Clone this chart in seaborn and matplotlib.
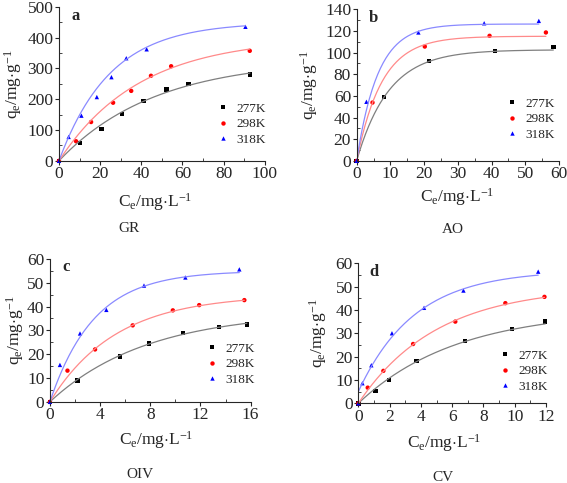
import numpy as np
import pandas as pd
import matplotlib
matplotlib.use("Agg")
import matplotlib.pyplot as plt
from matplotlib.ticker import MultipleLocator
import seaborn as sns

# temperatures (series)
temps = ["277K", "298K", "318K"]
colors = ["black", "red", "blue"]
line_colors = ["#7f7f7f", "#ff8a8a", "#8a8aff"]
markers = ["s", "o", "^"]

# panel a - GR
gr_277_c = [0, 10.2, 20.7, 30.6, 41.1, 52.2, 62.9, 92.8]
gr_277_q = [0, 57, 103, 152, 194, 231, 250, 280]
gr_298_c = [0, 8.3, 15.6, 26.3, 35.1, 44.7, 54.5, 92.7]
gr_298_q = [0, 63.6, 126, 188.6, 227, 276, 307, 357]
gr_318_c = [0, 4.7, 10.9, 18.4, 25.5, 32.7, 42.6, 90.6]
gr_318_q = [0, 77.6, 146.6, 207, 271.5, 333, 362, 435]
gr_qmax = [330, 400, 450]
gr_k = [0.02145, 0.0256, 0.0402]
gr_q0 = [0, 0, 0]

# panel b - AO
ao_277_c = [0, 8.1, 21.4, 41.0, 58.3]
ao_277_q = [0, 58.8, 92.3, 101.2, 104.9]
ao_298_c = [0, 4.7, 20.2, 39.4, 56.1]
ao_298_q = [0, 53.8, 105.5, 115.4, 118.5]
ao_318_c = [0, 2.9, 18.3, 37.8, 54.0]
ao_318_q = [0, 54.5, 118.5, 127, 129.2]
ao_qmax = [102.5, 115, 126.3]
ao_k = [0.105, 0.134, 0.16]
ao_q0 = [0, 0, 0]

# panel c - OIV
oiv_277_c = [0, 2.2, 5.6, 7.9, 10.6, 13.5, 15.7]
oiv_277_q = [0, 8.9, 19.0, 24.5, 29.0, 31.5, 32.4]
oiv_298_c = [0, 1.4, 3.6, 6.6, 9.8, 11.9, 15.5]
oiv_298_q = [0, 13.1, 22.0, 32.1, 38.4, 40.6, 42.7]
oiv_318_c = [0, 0.8, 2.4, 4.5, 7.5, 10.8, 15.1]
oiv_318_q = [0, 15.5, 28.7, 38.6, 48.8, 52.2, 55.6]
oiv_qmax = [38, 45, 55]
oiv_k = [0.129, 0.19, 0.285]
oiv_q0 = [0, 0, 0]

# panel d - CV
cv_277_c = [0, 1.09, 1.96, 3.73, 6.82, 9.83, 11.95]
cv_277_q = [0, 5.3, 10.0, 18.1, 26.7, 31.7, 35.0]
cv_298_c = [0, 0.6, 1.6, 3.5, 6.2, 9.4, 11.9]
cv_298_q = [0, 6.7, 13.9, 25.4, 35.0, 42.9, 45.6]
cv_318_c = [0, 0.26, 0.83, 2.15, 4.2, 6.72, 11.5]
cv_318_q = [0, 8.6, 16.3, 30.0, 40.9, 48.3, 56.4]
cv_qmax = [40, 50, 57]
cv_k = [0.159, 0.2, 0.279]
cv_q0 = [0, 0, 5]

panels = [
    dict(letter="a", name="GR", c=[gr_277_c, gr_298_c, gr_318_c], q=[gr_277_q, gr_298_q, gr_318_q],
         qmax=gr_qmax, k=gr_k, q0=gr_q0, xlim=(0, 100), ylim=(0, 500), xstep=20, ystep=100,
         rect=[0.104, 0.667, 0.363, 0.319], xl=(0.47, -0.266), yl=-0.223, tt=(0.34, -0.44),
         leg=(0.74, 0.42)),
    dict(letter="b", name="AO", c=[ao_277_c, ao_298_c, ao_318_c], q=[ao_277_q, ao_298_q, ao_318_q],
         qmax=ao_qmax, k=ao_k, q0=ao_q0, xlim=(0, 60), ylim=(0, 140), xstep=10, ystep=20,
         rect=[0.629, 0.667, 0.357, 0.314], xl=(0.495, -0.237), yl=-0.233, tt=(0.475, -0.45),
         leg=(0.71, 0.46)),
    dict(letter="c", name="OIV", c=[oiv_277_c, oiv_298_c, oiv_318_c], q=[oiv_277_q, oiv_298_q, oiv_318_q],
         qmax=oiv_qmax, k=oiv_k, q0=oiv_q0, xlim=(0, 16), ylim=(0, 60), xstep=4, ystep=10,
         rect=[0.088, 0.168, 0.354, 0.296], xl=(0.53, -0.266), yl=-0.174, tt=(0.45, -0.51),
         leg=(0.75, 0.46)),
    dict(letter="d", name="CV", c=[cv_277_c, cv_298_c, cv_318_c], q=[cv_277_q, cv_298_q, cv_318_q],
         qmax=cv_qmax, k=cv_k, q0=cv_q0, xlim=(0, 12), ylim=(0, 60), xstep=2, ystep=10,
         rect=[0.632, 0.165, 0.331, 0.290], xl=(0.46, -0.286), yl=-0.213, tt=(0.45, -0.53),
         leg=(0.72, 0.43)),
]

sns.set_style("ticks")
plt.rcParams["font.family"] = ["Liberation Serif", "DejaVu Serif"]
plt.rcParams["mathtext.fontset"] = "custom"
plt.rcParams["mathtext.rm"] = "Liberation Serif"
plt.rcParams["mathtext.it"] = "Liberation Serif:italic"

fig = plt.figure(figsize=(5.67, 4.83), dpi=100)

for p in panels:
    ax = fig.add_axes(p["rect"])
    pts = pd.concat([pd.DataFrame({"C": c, "q": q, "T": t}) for c, q, t in zip(p["c"], p["q"], temps)])
    fits = []
    for c, t, qm, k, q0 in zip(p["c"], temps, p["qmax"], p["k"], p["q0"]):
        xs = np.linspace(0, max(c), 200)
        fits.append(pd.DataFrame({"C": xs, "q": q0 + (qm - q0) * (1 - np.exp(-k * xs)), "T": t}))
    fits = pd.concat(fits)

    sns.lineplot(data=fits, x="C", y="q", hue="T", palette=line_colors, lw=0.9,
                 legend=False, ax=ax)
    sns.scatterplot(data=pts, x="C", y="q", hue="T", style="T", palette=colors,
                    markers=markers, s=10, edgecolor="none", ax=ax, clip_on=False)

    ax.set_xlim(p["xlim"])
    ax.set_ylim(p["ylim"])
    ax.xaxis.set_major_locator(MultipleLocator(p["xstep"]))
    ax.yaxis.set_major_locator(MultipleLocator(p["ystep"]))
    ax.xaxis.set_minor_locator(MultipleLocator(p["xstep"] / 2))
    ax.yaxis.set_minor_locator(MultipleLocator(p["ystep"] / 2))
    ax.tick_params(which="major", direction="out", length=3, width=0.8, labelsize=12.5, pad=1)
    ax.tick_params(which="minor", direction="in", length=2, width=0.6)
    sns.despine(ax=ax)
    for s in ["left", "bottom"]:
        ax.spines[s].set_linewidth(0.8)

    ax.set_xlabel(r"C$_\mathrm{e}$/mg$\cdot$L$^{-1}$", fontsize=12.5)
    ax.set_ylabel(r"q$_\mathrm{e}$/mg$\cdot$g$^{-1}$", fontsize=12.5)
    ax.xaxis.set_label_coords(*p["xl"])
    ax.xaxis.label.set_va("center")
    ax.yaxis.set_label_coords(p["yl"], 0.5)
    ax.yaxis.label.set_va("center")

    ax.text(0.06, 0.94, p["letter"], transform=ax.transAxes, fontsize=12,
            fontweight="bold", va="center", ha="left")
    ax.text(*p["tt"], p["name"], transform=ax.transAxes,
            fontsize=11, ha="center", va="center")

    leg = ax.legend(loc="upper left", bbox_to_anchor=p["leg"], frameon=False, fontsize=9.5,
                    handlelength=0.8, handletextpad=0.6, labelspacing=0.25, borderpad=0)

fig.savefig("out.png", dpi=100)
